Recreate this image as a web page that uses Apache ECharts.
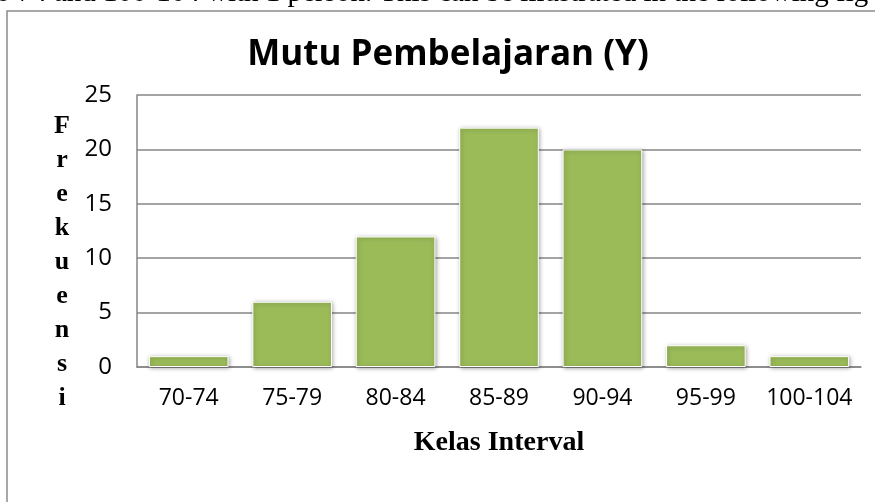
<!DOCTYPE html>
<html><head><meta charset="utf-8">
<script src="https://cdn.jsdelivr.net/npm/echarts@6/dist/echarts.min.js"></script>
<style>html,body{margin:0;padding:0;background:#fff}#c{width:875px;height:502px}</style>
</head><body><div id="c"></div>
<script>
const categories = ['70-74','75-79','80-84','85-89','90-94','95-99','100-104'];
const frekuensi = [1, 6, 12, 22, 20, 2, 1];
const yTicks = [0, 5, 10, 15, 20, 25];
const titleText = 'Mutu Pembelajaran (Y)';
const xName = 'Kelas Interval';
const yName = 'Frekuensi';
const topLine = 'o 74 and 100-104 with 1 person. This can be illustrated in the following fig';

const chart = echarts.init(document.getElementById('c'));
const yLetters = yName.split('').map((ch, i) => ({
  type: 'text', x: 62, y: 113 + i * 34,
  style: { text: ch, font: 'bold 26px "Liberation Serif", serif', fill: '#000', align: 'center' }
}));
chart.setOption({
  animation: false,
  title: { text: titleText, left: 443, top: 33, textAlign: 'center',
    textStyle: { fontFamily: '"Open Sans", sans-serif', fontWeight: 'bold', fontSize: 35, color: '#000' } },
  grid: { left: 137, right: 14, top: 95, bottom: 135 },
  xAxis: {
    type: 'category', data: categories,
    axisLine: { lineStyle: { color: '#868686', width: 1.5 } },
    axisTick: { show: false },
    axisLabel: { color: '#000', fontSize: 23, fontFamily: '"Open Sans", sans-serif', margin: 20, interval: 0 },
    name: xName, nameLocation: 'middle', nameGap: 62,
    nameTextStyle: { color: '#000', fontSize: 28, fontWeight: 'bold', fontFamily: '"Liberation Serif", serif', verticalAlign: 'top' }
  },
  yAxis: {
    type: 'value', min: yTicks[0], max: yTicks[yTicks.length-1], interval: 5,
    axisLine: { show: true, lineStyle: { color: '#868686', width: 1.5 } },
    axisTick: { show: false },
    splitLine: { lineStyle: { color: '#868686', width: 1.5 } },
    axisLabel: { color: '#000', fontSize: 24, fontFamily: '"Open Sans", sans-serif', margin: 25 }
  },
  series: [{
    type: 'bar', data: frekuensi, barCategoryGap: '23%',
    itemStyle: { color: '#9BBB59', borderColor: '#fff', borderWidth: 1,
      shadowBlur: 4, shadowColor: 'rgba(0,0,0,0.35)', shadowOffsetX: 1, shadowOffsetY: 1 }
  }],
  graphic: [
    { type: 'rect', shape: { x: 7, y: 11, width: 880, height: 500 },
      style: { fill: '#fff', stroke: '#8c8c8c', lineWidth: 1.5 }, z: -1 },
    { type: 'text', x: -4, y: -21, z: 5,
      style: { text: topLine, font: '29px "Liberation Serif", serif', fill: '#000' } },
    ...yLetters
  ]
});
</script></body></html>
